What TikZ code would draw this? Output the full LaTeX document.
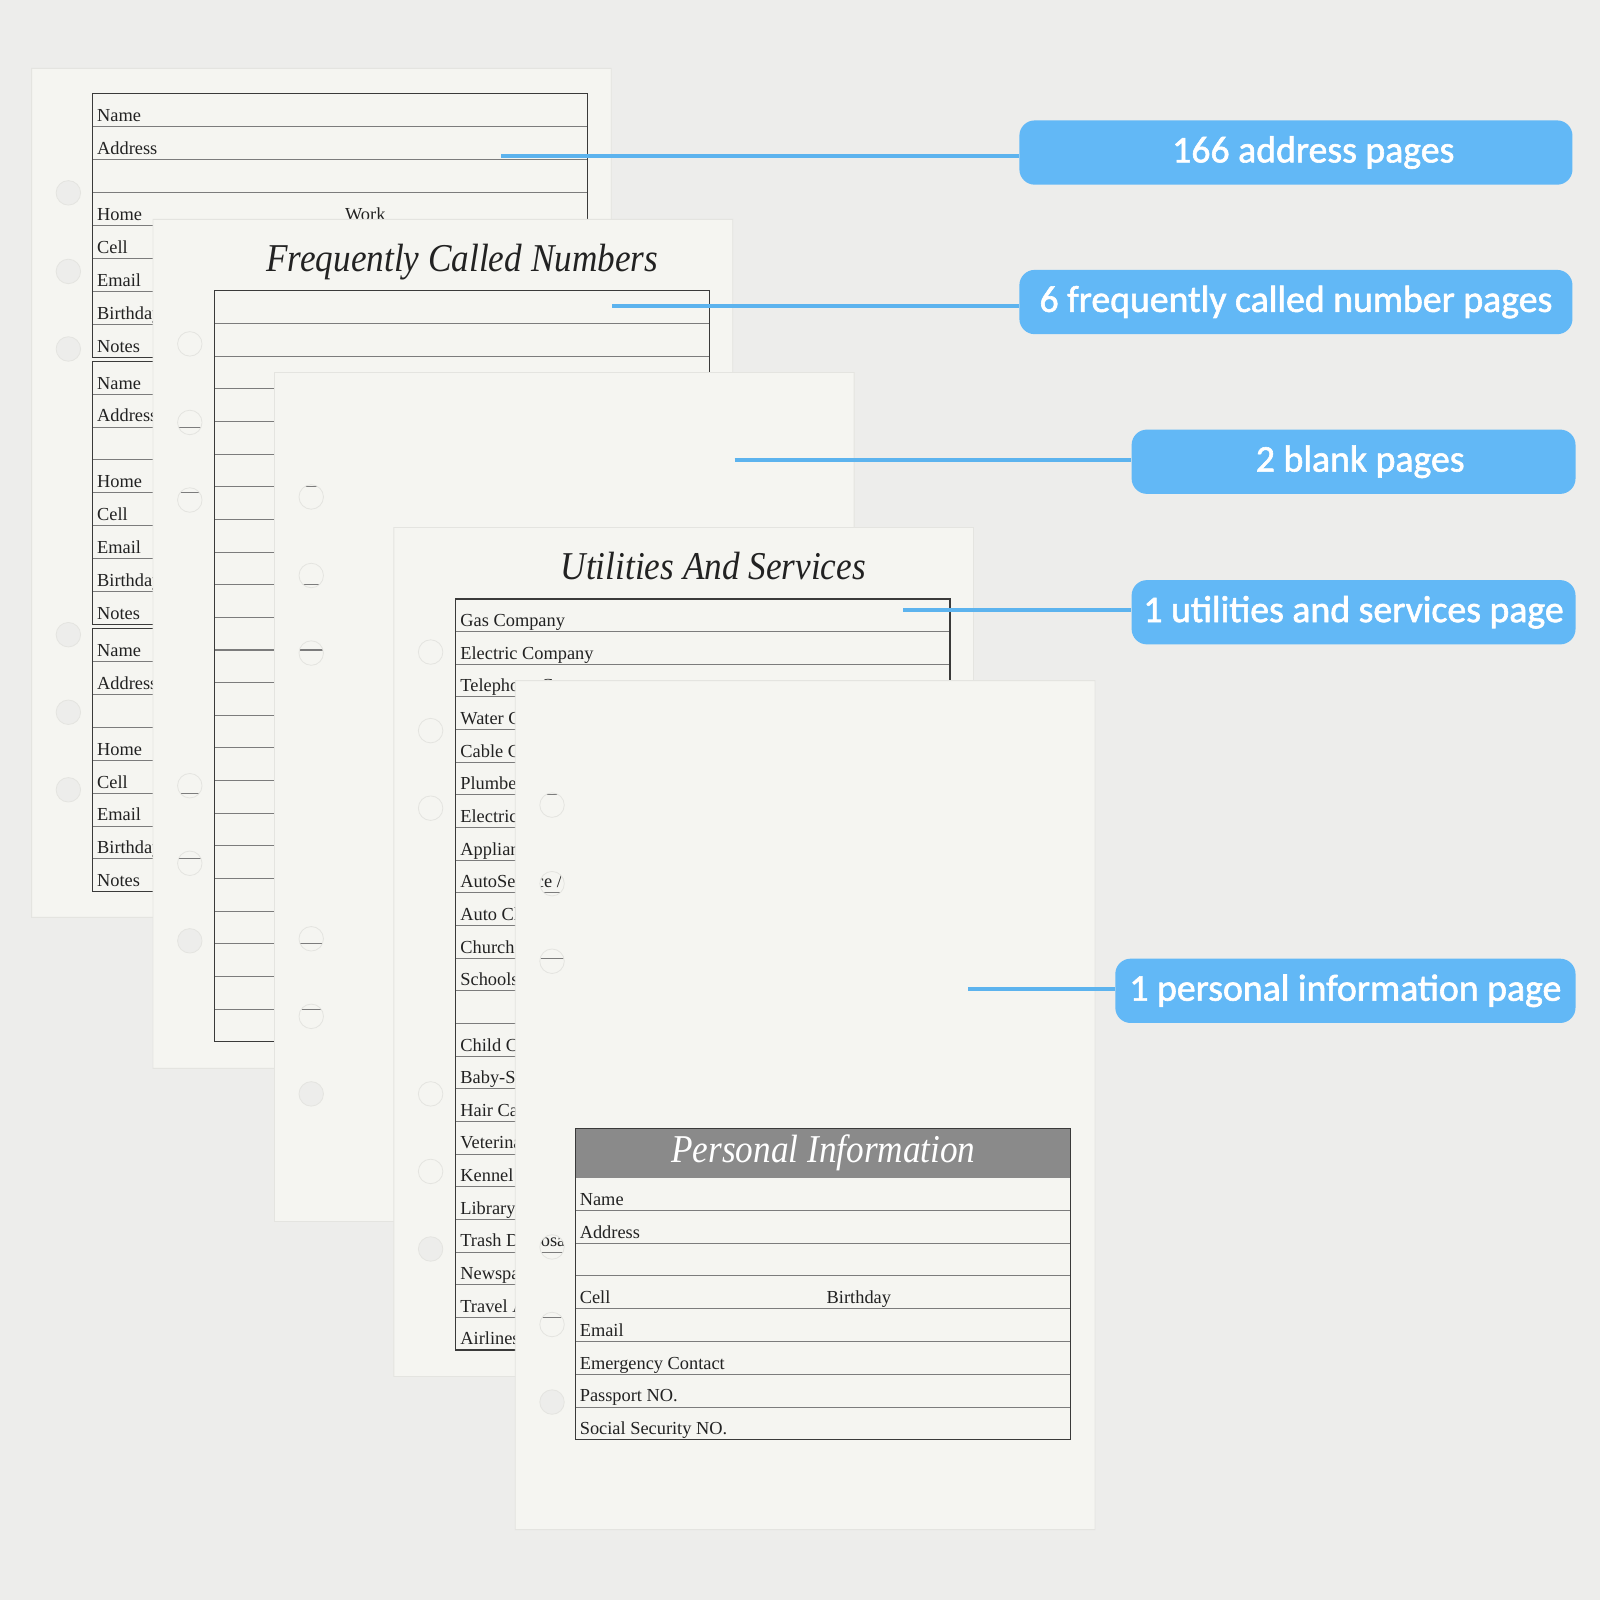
\documentclass[tikz,border=0pt]{standalone}
\usepackage{graphicx}
\usepackage{fontspec}
\setmainfont{Liberation Serif}
\newfontfamily\calfont[FakeBold=1.6]{Carlito}
\definecolor{bgc}{HTML}{EDEDEB}
\definecolor{paperc}{HTML}{F5F5F1}
\definecolor{edgec}{HTML}{E4E4E0}
\definecolor{boxc}{HTML}{62B8F6}
\definecolor{leadc}{HTML}{5CB3EE}
\definecolor{headc}{HTML}{8A8A8A}
\definecolor{rulec}{HTML}{7C7C7C}
\definecolor{framec}{HTML}{3A3A3A}
\definecolor{inkc}{HTML}{222222}
\tikzset{
  paper/.style={fill=paperc, draw=edgec, line width=0.8pt, even odd rule},
  frame/.style={draw=framec, line width=1.1pt},
  rowline/.style={draw=rulec, line width=1pt},
  lbl/.style={anchor=base west, inner sep=0pt, font=\fontsize{18}{18}\selectfont, text=inkc},
  ttl/.style={anchor=base, inner sep=0pt, font=\fontsize{34.5}{34.5}\selectfont\itshape, text=inkc},
  callout/.style={fill=boxc, rounded corners=15pt, text=white, font=\calfont\fontsize{37}{37}\selectfont, inner sep=0pt, minimum height=63pt},
  leader/.style={draw=leadc, line width=3.5pt},
}
\newcommand\tallt[1]{\scalebox{1}[1.12]{#1}}
\newcommand\drawpaper[2]{%
  \path[paper] (#1,#2) rectangle ++(568,832)
    (#1+36,#2+122) circle[radius=12pt]
    (#1+36,#2+199) circle[radius=12pt]
    (#1+36,#2+275) circle[radius=12pt]
    (#1+36,#2+555) circle[radius=12pt]
    (#1+36,#2+631) circle[radius=12pt]
    (#1+36,#2+707) circle[radius=12pt];}
\begin{document}
\begin{tikzpicture}[x=1pt,y=-1pt]
\path[use as bounding box, fill=bgc] (0,0) rectangle (1568,1568);

% ---------- page 1: address pages
\drawpaper{31}{67}
\foreach \b in {0,1,2}{
  \pgfmathsetmacro\tp{92+262*\b}
  \foreach \r in {1,...,7} \draw[rowline] (91,{\tp+32.25*\r}) -- (576,{\tp+32.25*\r});
  \draw[frame] (91,\tp) rectangle (576,{\tp+258});
  \foreach \r/\t in {1/Name,2/Address,4/Home,5/Cell,6/Email,7/Birthday,8/Notes}
    \node[lbl] (pa-\b-\r) at (95,{\tp+32.25*\r-5}) {\t};
  \node[lbl] (pa-\b-w) at (338,{\tp+32.25*4-5}) {Work};
}

% ---------- page 2: frequently called numbers
\drawpaper{150}{215}
\node[ttl] (fcn) at (453,266) {\tallt{Frequently Called Numbers}};
\foreach \r in {1,...,22} \draw[rowline] (210,{285+32*\r}) -- (695,{285+32*\r});
\draw[frame] (210,285) rectangle (695,1021);

% ---------- page 3: blank
\drawpaper{269}{365}

% ---------- page 4: utilities and services
\drawpaper{386}{517}
\node[ttl] (uas) at (699,568) {\tallt{Utilities And Services}};
\foreach \r in {1,...,22} \draw[rowline] (446,{587+32*\r}) -- (931,{587+32*\r});
\draw[frame] (446,587) rectangle (931,1323);
\foreach \r/\t in {1/{Gas Company},2/{Electric Company},3/{Telephone Company},4/{Water Company},
  5/{Cable Company},6/{Plumber},7/{Electrician},8/{Appliance Repair},9/{AutoService / Repair},
  10/{Auto Club},11/{Church},12/{Schools},14/{Child Care},15/{Baby-Sitter},16/{Hair Care},
  17/{Veterinarian},18/{Kennel},19/{Library},20/{Trash Disposal},21/{Newspaper},
  22/{Travel Agent},23/{Airlines}}
  \node[lbl] (us-\r) at (451,{587+32*\r-5}) {\t};

% ---------- page 5: personal information
\drawpaper{505}{667}
\fill[headc] (564,1106) rectangle (1049,1154);
\node[ttl, text=white] (pin) at (807,1139) {\tallt{Personal Information}};
\foreach \r in {1,...,7} \draw[rowline] (564,{1154+32.125*\r}) -- (1049,{1154+32.125*\r});
\draw[frame] (564,1106) rectangle (1049,1411);
\foreach \r/\t in {1/Name,2/Address,4/Cell,5/Email,6/{Emergency Contact},7/{Passport NO.},8/{Social Security NO.}}
  \node[lbl] (pi-\r) at (568,{1154+32.125*\r-5}) {\t};
\node[lbl] (pi-b) at (810,{1154+32.125*4-5}) {Birthday};

% ---------- callouts
\node[callout, minimum width=542pt] (c1) at (1270,149.5) {\hspace*{34pt}166 address pages};
\node[callout, minimum width=542pt] (c2) at (1270,296) {6 frequently called number pages};
\node[callout, minimum width=435pt] (c3) at (1326.5,452.5) {\hspace*{13pt}2 blank pages};
\node[callout, minimum width=435pt] (c4) at (1326.5,600) {1 utilities and services page};
\node[callout, minimum width=451pt] (c5) at (1318.5,971) {1 personal information page};

\coordinate (l1) at (491,153);
\coordinate (l2) at (600,300);
\coordinate (l3) at (720,451);
\coordinate (l4) at (885,598);
\coordinate (l5) at (949,969);
\draw[leader] (l1) -- (l1 -| c1.west);
\draw[leader] (l2) -- (l2 -| c2.west);
\draw[leader] (l3) -- (l3 -| c3.west);
\draw[leader] (l4) -- (l4 -| c4.west);
\draw[leader] (l5) -- (l5 -| c5.west);
\end{tikzpicture}
\end{document}
